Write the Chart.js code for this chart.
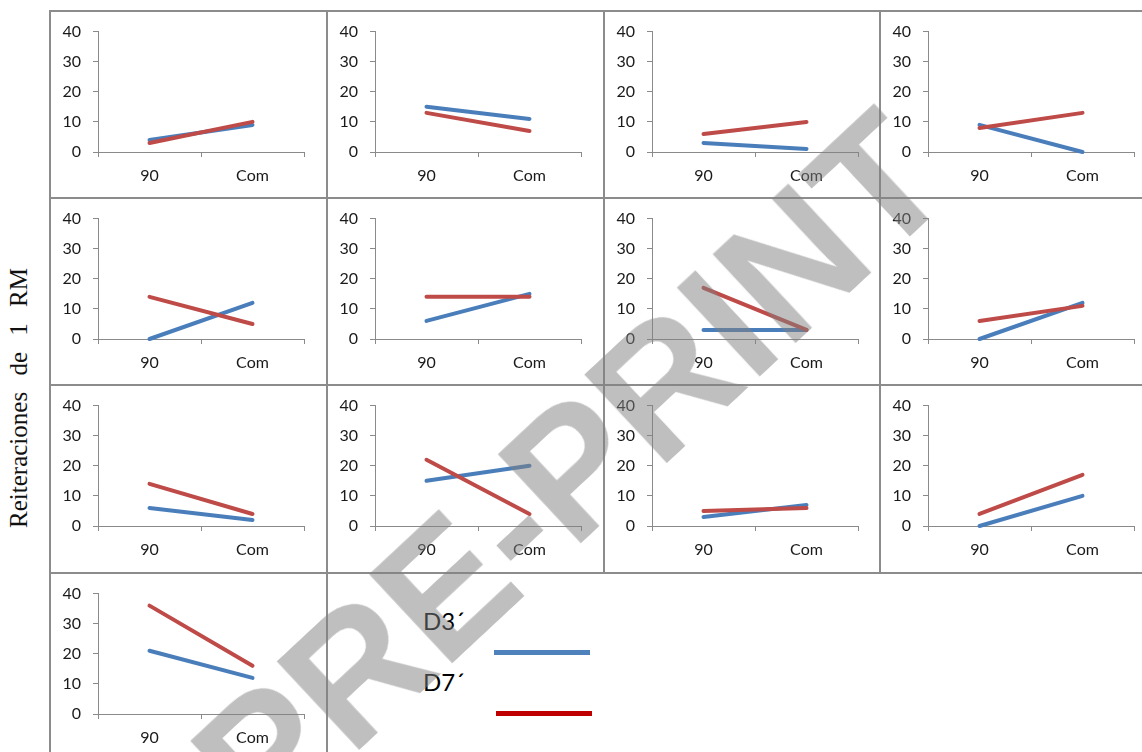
<!DOCTYPE html>
<html>
<head>
<meta charset="utf-8">
<script src="https://cdn.jsdelivr.net/npm/chart.js@4/dist/chart.umd.min.js"></script>
<style>
    html, body { margin: 0; padding: 0; background: #fff; }
    body { width: 1142px; height: 752px; position: relative; overflow: hidden; }
    .cell { position: absolute; }
    .rule { position: absolute; background: #8c8c8c; }
    .y-title {
        position: absolute; left: 19px; top: 398px;
        transform: translate(-50%, -50%) rotate(-90deg);
        font-family: 'Liberation Serif', serif; font-size: 25px; word-spacing: 10px;
        white-space: nowrap; color: #111;
    }
    .legend-label { position: absolute; font-family: Lato, sans-serif; font-size: 24px; color: #000; line-height: 1; }
    .legend-line { position: absolute; height: 5px; }
    .watermark {
        position: absolute; left: 570px; top: 470px;
        transform: translate(-50%, -50%) rotate(-43deg);
        font-family: 'Liberation Sans', sans-serif; font-weight: bold; font-size: 176px;
        line-height: 1; white-space: nowrap; color: rgba(128, 128, 128, 0.5);
        pointer-events: none;
    }
</style>
</head>
<body>
<div class="y-title">Reiteraciones de 1 RM</div>
<div id="panels"></div>
<div id="rules"></div>
<div class="legend-label" style="left:423px; top:609px">D3´</div>
<div class="legend-label" style="left:423px; top:670px">D7´</div>
<div class="legend-line" style="left:494px; top:650px; width:96px; background:#4F81BD"></div>
<div class="legend-line" style="left:496px; top:711px; width:96px; background:#C00000"></div>
<div class="watermark">PRE-PRINT</div>
<script>
'use strict'

// categories on the x axis of every small panel
const categories = ['90', 'Com']
// one pair [90, Com] per panel, reading left to right, top to bottom
const d3Values = [
    [4, 9], [15, 11], [3, 1], [9, 0],
    [0, 12], [6, 15], [3, 3], [0, 12],
    [6, 2], [15, 20], [3, 7], [0, 10],
    [21, 12]
]
const d7Values = [
    [3, 10], [13, 7], [6, 10], [8, 13],
    [14, 5], [14, 14], [17, 3], [6, 11],
    [14, 4], [22, 4], [5, 6], [4, 17],
    [36, 16]
]
const yTicks = [0, 10, 20, 30, 40]
const seriesNames = ['D3´', 'D7´']

const colX = [49, 326, 603, 879]
const rowY = [10, 197, 384, 572]
const cellW = 277
const cellH = 187
const axisColor = '#8a8a8a'
const tickFont = { family: 'Lato', size: 16 }

document.addEventListener('DOMContentLoaded', () => {
    d3Values.forEach((d3, i) => {
        Panel(i, d3, d7Values[i])
    })
    Rules()
})

function Panel(i, d3, d7) {
    const col = i % 4
    const row = Math.floor(i / 4)
    const cell = document.createElement('div')
    cell.classList.add('cell')
    cell.style.left = colX[col] + 'px'
    cell.style.top = rowY[row] + 'px'
    const canvas = document.createElement('canvas')
    canvas.width = cellW
    canvas.height = cellH
    cell.append(canvas)
    document.querySelector('#panels').append(cell)

    new Chart(canvas.getContext('2d'), {
        type: 'line',
        data: {
            labels: categories,
            datasets: [{
                label: seriesNames[0],
                data: d3,
                borderColor: '#4A7EBB',
                borderWidth: 4,
                borderCapStyle: 'round',
                pointRadius: 0,
                clip: false,
                order: 1
            }, {
                label: seriesNames[1],
                data: d7,
                borderColor: '#BE4B48',
                borderWidth: 4,
                borderCapStyle: 'round',
                pointRadius: 0,
                clip: false,
                order: 0
            }]
        },
        options: {
            responsive: false,
            animation: false,
            devicePixelRatio: 1,
            layout: { padding: { top: 21, right: 22, left: 0, bottom: 0 } },
            plugins: { legend: { display: false }, tooltip: { enabled: false } },
            scales: {
                x: {
                    offset: true,
                    grid: { offset: true, drawOnChartArea: false, tickLength: 5, color: axisColor },
                    border: { color: axisColor, width: 1 },
                    ticks: { font: tickFont, color: '#1a1a1a', padding: 9, maxRotation: 0 },
                    afterFit: s => { s.height = cellH - 142 }
                },
                y: {
                    min: 0,
                    max: 40,
                    afterBuildTicks: s => { s.ticks = yTicks.map(v => ({ value: v })) },
                    grid: { drawOnChartArea: false, tickLength: 5, color: axisColor },
                    border: { color: axisColor, width: 1 },
                    ticks: { font: tickFont, color: '#1a1a1a', padding: 12 },
                    afterFit: s => { s.width = 49 }
                }
            }
        }
    })
}

function Rules() {
    const box = document.querySelector('#rules')
    const add = (x, y, w, h) => {
        const el = document.createElement('div')
        el.classList.add('rule')
        el.style.left = x + 'px'
        el.style.top = y + 'px'
        el.style.width = w + 'px'
        el.style.height = h + 'px'
        box.append(el)
    }
    rowY.forEach(y => add(colX[0], y, 1142 - colX[0], 2))
    add(colX[0], rowY[0], 2, 752 - rowY[0])
    add(colX[1], rowY[0], 2, 752 - rowY[0])
    add(colX[2], rowY[0], 2, rowY[3] - rowY[0])
    add(colX[3], rowY[0], 2, rowY[3] - rowY[0])
}
</script>
</body>
</html>
